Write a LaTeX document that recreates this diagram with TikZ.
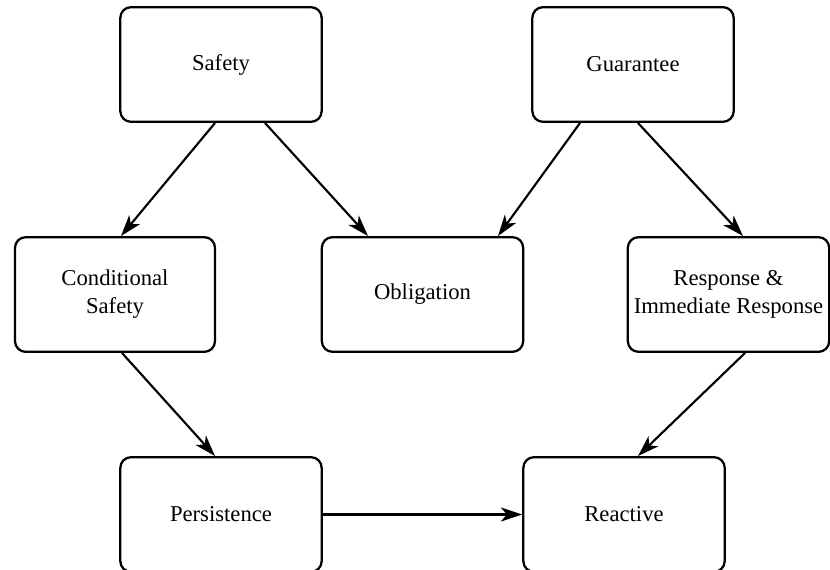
\documentclass[tikz,border=0pt]{standalone}
\usepackage{fontspec}
\setmainfont{Liberation Serif}
\usetikzlibrary{arrows.meta,calc}
\begin{document}
\begin{tikzpicture}[x=0.75pt,y=-0.75pt,
  classbox/.style={draw,line width=1.7pt,rounded corners=8pt,inner sep=0pt,
    minimum width=151pt,minimum height=86pt,align=center,
    font=\fontsize{17}{21}\selectfont},
  link/.style={line width=1.6pt,-{Stealth[length=16pt,width=10.5pt,inset=4.5pt]}}]
\useasboundingbox (0,0) rectangle (830,569);

% first row
\node[classbox] (safety) at (221,64.5) {Safety};
\node[classbox] (guarantee) at (633,64.5) {Guarantee};
% second row
\node[classbox,minimum width=150pt] (cond) at (115,294.5) {Conditional\\Safety};
\node[classbox] (oblig) at (422.5,294.5) {Obligation};
\node[classbox] (resp) at (728.5,294.5) {Response \&\\Immediate Response};
% third row
\node[classbox] (persist) at (221,514.5) {Persistence};
\node[classbox] (react) at (624,514.5) {Reactive};

% connectors
\draw[link] ($(safety.south)+(-6,0)$) -- ($(cond.north)+(6,0)$);
\draw[link] ($(safety.south)+(44,0)$) -- ($(oblig.north)+(-54.5,0)$);
\draw[link] ($(guarantee.south)+(-53,0)$) -- ($(oblig.north)+(75.5,0)$);
\draw[link] ($(guarantee.south)+(5,0)$) -- ($(resp.north)+(14.5,0)$);
\draw[link] ($(cond.south)+(7,0)$) -- ($(persist.north)+(-6,0)$);
\draw[link] ($(resp.south)+(16.5,0)$) -- ($(react.north)+(14,0)$);
\draw[link] (persist.east) -- (react.west);
\end{tikzpicture}
\end{document}
